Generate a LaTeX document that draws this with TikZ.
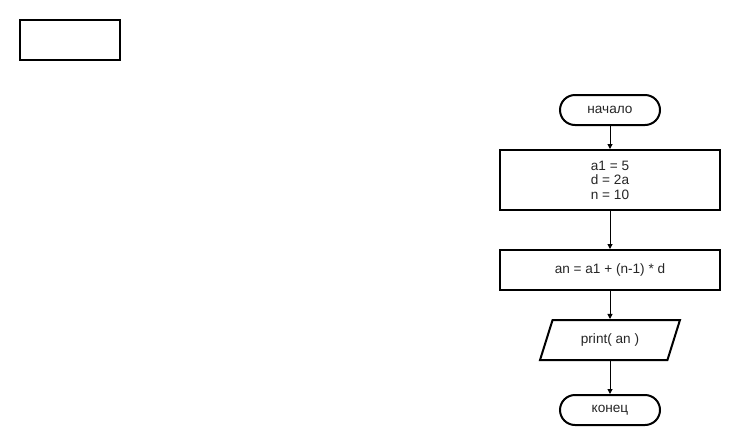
\documentclass[tikz,border=0pt]{standalone}
\usepackage{fontspec}
\setmainfont{Liberation Sans}
\usetikzlibrary{arrows.meta,shapes.geometric}
\begin{document}
\begin{tikzpicture}[x=1pt,y=-1pt,
  box/.style={draw,line width=2pt,fill=white,inner sep=0pt,text=black!85,font=\fontsize{13.6}{14.5}\selectfont,align=center},
  term/.style={box,rounded corners=15pt,minimum width=100pt,minimum height=30pt},
  proc/.style={box,minimum width=220pt,minimum height=60pt},
  conn/.style={line width=1pt,-{Triangle[length=5pt,width=5pt]}}]
\useasboundingbox (0,0) rectangle (740,445);
\node[draw,line width=2pt,minimum width=100pt,minimum height=40pt,inner sep=0pt] (blank) at (70,40) {};
\node[term] (start) at (610,110) {начало};
\node[proc] (init) at (610,180) {a1 = 5\\d = 2a\\n = 10};
\node[proc,minimum height=40pt] (calc) at (610,270) {an = a1 + (n-1) * d};
\node[box,trapezium,trapezium left angle=63.4,trapezium right angle=116.6,minimum width=140pt,minimum height=40pt,trapezium stretches=true] (out) at (610,340) {print( an )};
\node[term] (stop) at (610,410) {конец};
\draw[conn] (start) -- (init);
\draw[conn] (init) -- (calc);
\draw[conn] (calc) -- (out);
\draw[conn] (out) -- (stop);
\end{tikzpicture}
\end{document}
